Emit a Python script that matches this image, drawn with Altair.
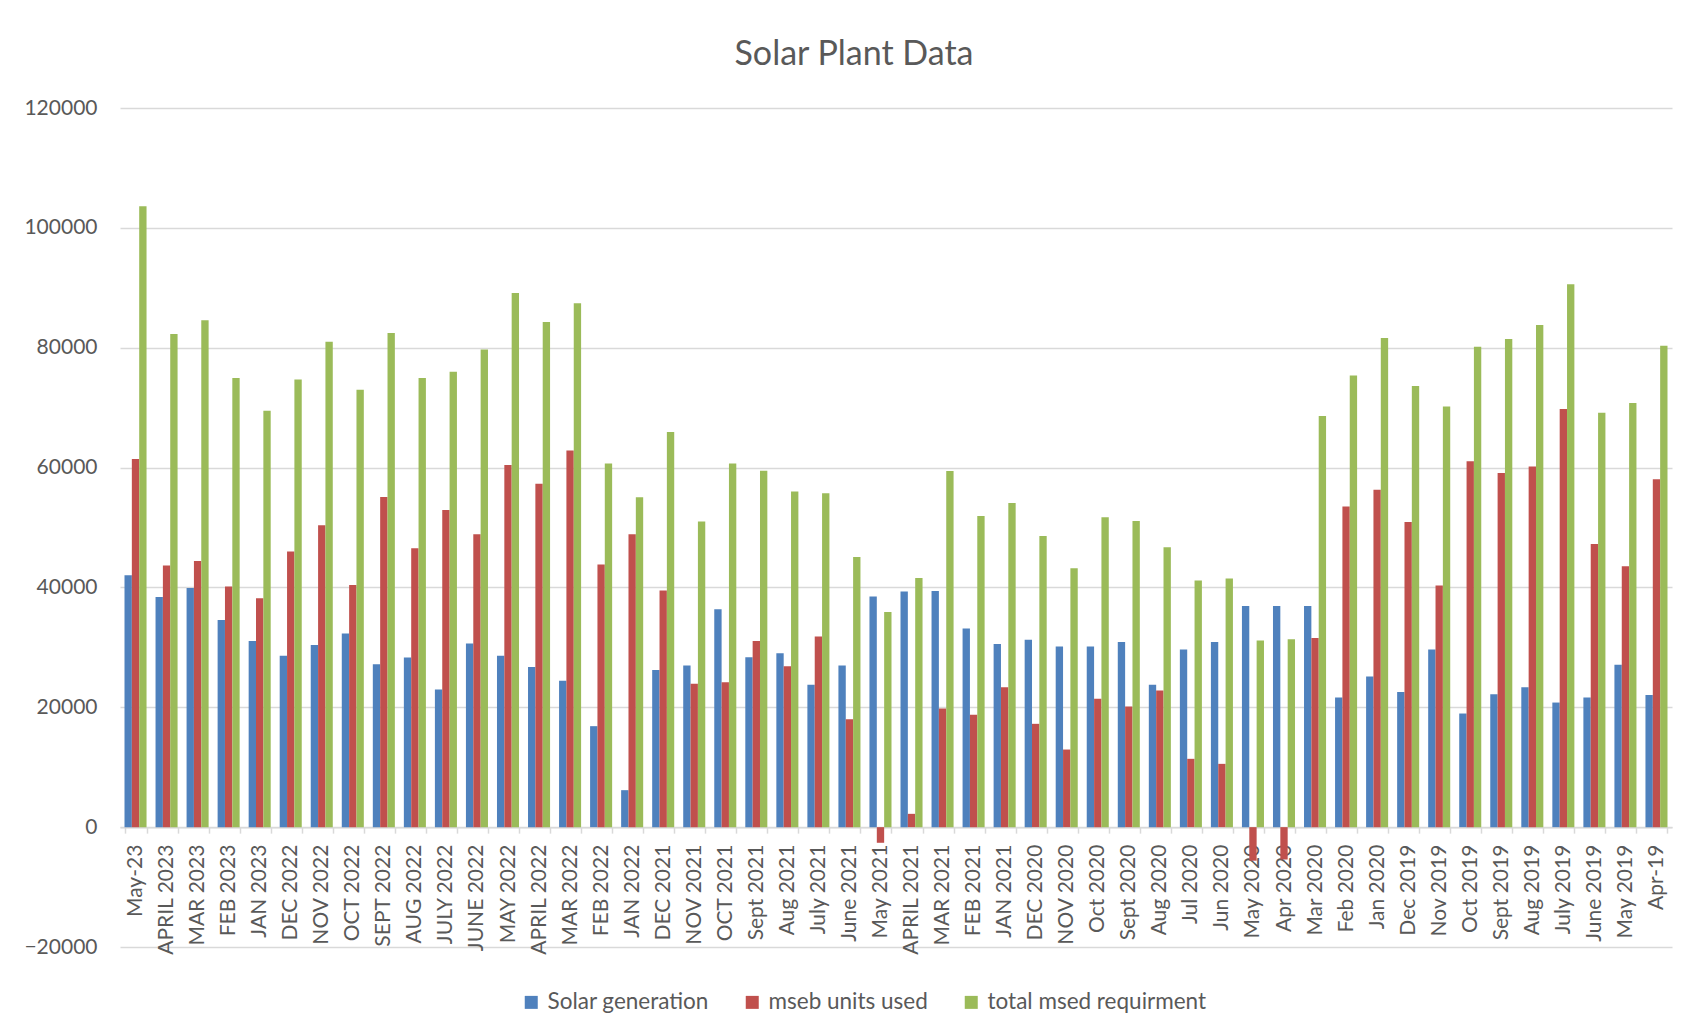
import altair as alt
import pandas as pd

months = ["May-23", "APRIL 2023", "MAR  2023", "FEB 2023", "JAN 2023", "DEC 2022", "NOV 2022",
          "OCT 2022", "SEPT 2022", "AUG 2022", "JULY 2022", "JUNE 2022", "MAY 2022", "APRIL 2022",
          "MAR 2022", "FEB 2022", "JAN 2022", "DEC 2021", "NOV 2021", "OCT 2021", "Sept 2021",
          "Aug 2021", "July 2021", "June 2021", "May 2021", "APRIL 2021", "MAR 2021", "FEB 2021",
          "JAN 2021", "DEC 2020", "NOV 2020", "Oct 2020", "Sept 2020", "Aug 2020", "Jul 2020",
          "Jun 2020", "May 2020", "Apr 2020", "Mar 2020", "Feb 2020", "Jan 2020", "Dec 2019",
          "Nov 2019", "Oct 2019", "Sept 2019", "Aug 2019", "July 2019", "June 2019", "May 2019",
          "Apr-19"]

solar_generation = [42040, 38420, 39920, 34580, 31080, 28580, 30410, 32300, 27190, 28300,
                    22960, 30640, 28580, 26740, 24410, 16850, 6170, 26240, 26970, 36360,
                    28360, 29020, 23740, 26970, 38480, 39310, 39420, 33140, 30580, 31250,
                    30140, 30140, 30910, 23740, 29630, 30910, 36920, 36920, 36920, 21630,
                    25130, 22570, 29630, 18960, 22180, 23350, 20790, 21630, 27080, 22070]

mseb_units_used = [61440, 43650, 44420, 40140, 38200, 45980, 50370, 40420, 55100, 46540,
                   52930, 48870, 60440, 57320, 62830, 43810, 48870, 39480, 23910, 24190,
                   31080, 26850, 31800, 18010, -2610, 2220, 19790, 18740, 23350, 17240,
                   12950, 21410, 20130, 22800, 11400, 10560, -5600, -5400, 31580, 53490,
                   56320, 50930, 40310, 61050, 59100, 60160, 69760, 47260, 43530, 58050]

total_msed_requirment = [103600, 82290, 84570, 74930, 69470, 74710, 81000, 72980, 82450, 74930,
                         75990, 79720, 89130, 84290, 87400, 60660, 55040, 65920, 50990, 60660,
                         59490, 55990, 55710, 45090, 35920, 41590, 59440, 51930, 54100, 48590,
                         43200, 51710, 51100, 46700, 41140, 41480, 31140, 31360, 68590, 75380,
                         81610, 73600, 70200, 80160, 81440, 83780, 90580, 69140, 70760, 80330]

series_names = ["Solar generation", "mseb units used", "total msed requirment"]
series_colors = ["#4F81BD", "#C0504D", "#9BBB59"]
y_ticks = [-20000, 0, 20000, 40000, 60000, 80000, 100000, 120000]

rows = []
for name, vals in zip(series_names, [solar_generation, mseb_units_used, total_msed_requirment]):
    for m, v in zip(months, vals):
        rows.append({"month": m, "series": name, "value": v})
df = pd.DataFrame(rows)

FONT = "Lato"
TXT = "#595959"
GRID = "#d9d9d9"
H = 839
W = 1552

chart = alt.Chart(df).mark_bar().encode(
    x=alt.X("month:N", sort=months, title=None,
            scale=alt.Scale(paddingInner=0.29, paddingOuter=0.145),
            axis=alt.Axis(labelAngle=270, labelFontSize=21, labelColor=TXT, labelFont=FONT,
                          domainColor=GRID, domainWidth=1.5, tickColor=GRID, tickWidth=1.5,
                          tickSize=6, tickBand="extent", labelPadding=11,
                          offset=-(H * 20000 / 140000), labelOverlap=False, zindex=0)),
    xOffset=alt.XOffset("series:N", sort=series_names, scale=alt.Scale(paddingInner=0, paddingOuter=0)),
    y=alt.Y("value:Q", title=None,
            scale=alt.Scale(domain=[-20000, 120000], nice=False, zero=False),
            axis=alt.Axis(values=y_ticks, format="d", labelFontSize=21, labelColor=TXT,
                          labelFont=FONT, domain=False, ticks=False, labelPadding=23,
                          gridColor=GRID, gridWidth=1.3)),
    color=alt.Color("series:N", sort=series_names,
                    scale=alt.Scale(domain=series_names, range=series_colors),
                    legend=alt.Legend(title=None, orient="none", direction="horizontal",
                                      legendX=400, legendY=883, symbolType="square",
                                      symbolSize=169, symbolStrokeWidth=0, labelFontSize=22.5,
                                      labelFont=FONT, labelColor=TXT, columnPadding=32,
                                      labelOffset=5, labelLimit=1000)),
).properties(
    width=W, height=H,
    title=alt.TitleParams("Solar Plant Data", fontSize=34, font=FONT, color=TXT,
                          fontWeight="normal", anchor="middle", dx=-42, offset=25),
    autosize=alt.AutoSizeParams(type="none"),
    padding={"left": 112, "top": 100, "right": 4, "bottom": 70},
).configure(background="white").configure_view(strokeWidth=0, stroke="transparent")

chart.save("out.html", embed_options={"renderer": "svg", "actions": False})
